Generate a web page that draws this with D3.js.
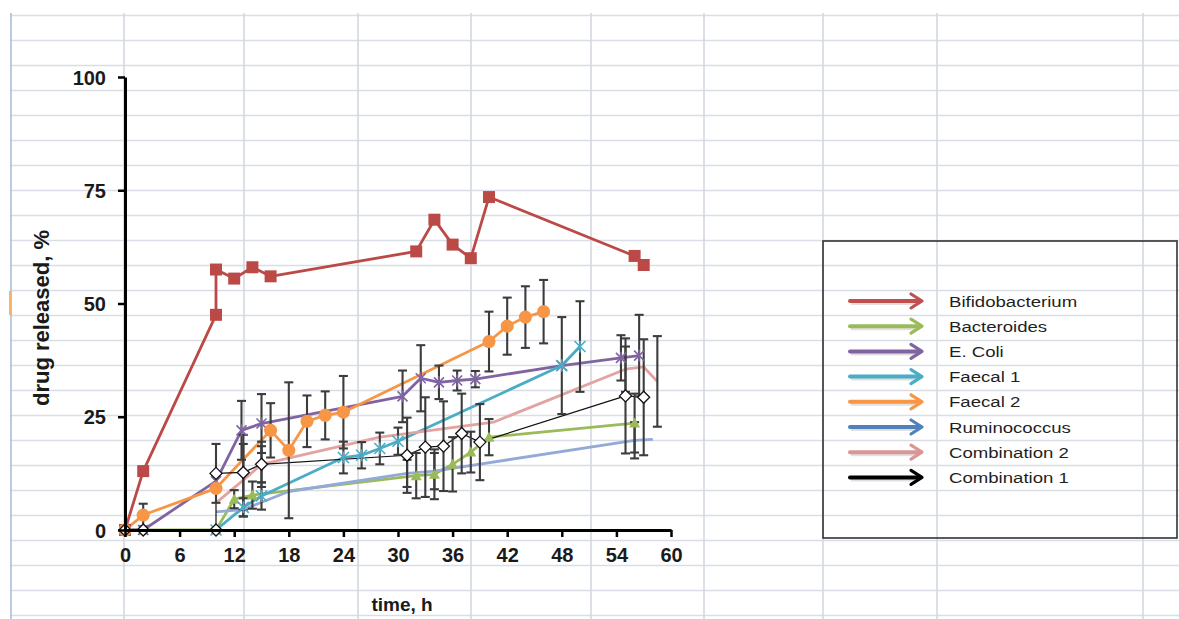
<!DOCTYPE html>
<html lang="en">
<head>
<meta charset="utf-8">
<script src="https://cdn.jsdelivr.net/npm/d3@7"></script>
<style>
  body { margin: 0; background: #fff; }
  svg { display: block; font-family: "Liberation Sans", Arial, sans-serif; }
</style>
</head>
<body>
<div id="chart"></div>
<script>
// series names, in legend order
var names = ["Bifidobacterium", "Bacteroides", "E. Coli", "Faecal 1", "Faecal 2",
             "Ruminococcus", "Combination 2", "Combination 1"];

// time (h), drug released (%), error (+/-, 0 = none)
var bifidoT = [0, 2, 10, 10, 12, 14, 16, 32, 34, 36, 38, 40, 56, 57];
var bifidoV = [0, 13, 47.5, 57.5, 55.5, 58, 56, 61.5, 68.5, 63, 60, 73.5, 60.5, 58.5];
var bifidoE = [0, 0, 0, 0, 0, 0, 0, 0, 0, 0, 0, 0, 0, 0];

var bactT = [0, 2, 10, 12, 14, 32, 34, 36, 38, 40, 56];
var bactV = [0, 0, 0, 6.8, 7.7, 12, 12.3, 14.5, 17.2, 20.5, 23.6];
var bactE = [0, 0, 0, 2, 3, 5, 5.5, 6, 4.5, 4, 6.5];

var ecoliT = [0, 2, 10, 12.8, 15, 30.5, 32.5, 34.5, 36.5, 38.5, 48, 54.5, 56.5];
var ecoliV = [0, 0, 10.8, 22, 23.5, 29.5, 33.5, 32.6, 33, 33.3, 36.3, 38, 38.5];
var ecoliE = [0, 0, 0, 6.5, 6.5, 5.7, 7.3, 3.7, 2.2, 1.8, 0, 5, 9];

var faecal1T = [10, 13, 15, 24, 26, 28, 30, 48, 50];
var faecal1V = [0, 5, 7.5, 16, 16.5, 18, 19.6, 36.3, 40.5];
var faecal1E = [0, 2, 3, 3.5, 2.9, 3.5, 3, 10.7, 10];

var faecal2T = [0, 2, 10, 16, 18, 20, 22, 24, 40, 42, 44, 46];
var faecal2V = [0, 3.3, 9.2, 22, 17.6, 24, 25.3, 26, 41.6, 45, 47, 48.2];
var faecal2E = [0, 2.5, 0, 6, 15, 5.7, 5.3, 8, 6.6, 6.3, 6.8, 7];

var rumiT = [10, 13, 18, 31, 34, 56, 58];
var rumiV = [4, 4.5, 8.5, 12.5, 13, 19.8, 20];
var rumiE = [0, 0, 0, 3, 4, 4, 0];

var comb2T = [10, 13, 15, 28, 40.5, 55, 57, 58.5];
var comb2V = [6, 11, 14.5, 20.5, 23.8, 35.5, 36, 32.8];
var comb2E = [0, 8, 5, 0, 0, 5, 0, 10];

var comb1T = [0, 2, 10, 10, 13, 15, 31, 33, 35, 37, 39, 55, 57];
var comb1V = [0, 0, 0, 12.5, 12.7, 14.5, 16.5, 18.3, 18.5, 21.3, 19.4, 29.6, 29.3];
var comb1E = [0, 0, 0, 6.5, 8.3, 4, 8.3, 11, 9.9, 8.8, 8.4, 12.7, 12.8];

var xTicks = [0, 6, 12, 18, 24, 30, 36, 42, 48, 54, 60];
var yTicks = [0, 25, 50, 75, 100];

// styling per series
var lineColors = ["#bb4a47", "#9bbb59", "#8064a2", "#4bacc6", "#f79646", "#93aad9", "#e3a3a1", "#111111"];
var legendColors = ["#c0504d", "#9bbb59", "#8064a2", "#4bacc6", "#f79646", "#4f81bd", "#d99694", "#000000"];
var markers = ["square", "triangle", "star", "x", "circle", "none", "none", "diamond"];

var allT = [bifidoT, bactT, ecoliT, faecal1T, faecal2T, rumiT, comb2T, comb1T];
var allV = [bifidoV, bactV, ecoliV, faecal1V, faecal2V, rumiV, comb2V, comb1V];
var allE = [bifidoE, bactE, ecoliE, faecal1E, faecal2E, rumiE, comb2E, comb1E];

var series = names.map(function(n, i) {
  return {
    name: n, color: lineColors[i], legend: legendColors[i], marker: markers[i],
    points: allT[i].map(function(t, j) { return {t: t, v: allV[i][j], e: allE[i][j]}; })
  };
});

var W = 1179, H = 619;
var svg = d3.select("#chart").append("svg").attr("width", W).attr("height", H);

// spreadsheet grid behind the chart
var sheetCols = [11, 124, 244, 358, 471, 591, 704, 823, 937, 1143];
var grid = svg.append("g");
grid.selectAll(".row").data(d3.range(0, 25)).enter().append("line")
  .attr("x1", 10).attr("x2", W)
  .attr("y1", function(d) { return 15.5 + d * 25; })
  .attr("y2", function(d) { return 15.5 + d * 25; })
  .style("stroke", "#d9dde5").style("stroke-width", 1.6);
grid.selectAll(".col").data(sheetCols).enter().append("line")
  .attr("x1", function(d) { return d; }).attr("x2", function(d) { return d; })
  .attr("y1", 13).attr("y2", H)
  .style("stroke", function(d, i) { return i === 0 ? "#a9bedc" : "#d4d7e0"; })
  .style("stroke-width", 1.6);
grid.append("rect").attr("x", 9).attr("y", 291).attr("width", 3).attr("height", 24)
  .style("fill", "#f5b66b");

// scales
var x = d3.scaleLinear().domain([0, 60]).range([125, 671]);
var y = d3.scaleLinear().domain([0, 100]).range([530, 77]);

var line = d3.line()
  .x(function(d) { return x(d.t); })
  .y(function(d) { return y(d.v); });

var plot = svg.append("g");

// lines
plot.selectAll(".series").data(series).enter().append("path")
  .attr("d", function(d) { return line(d.points); })
  .style("fill", "none")
  .style("stroke", function(d) { return d.color; })
  .style("stroke-width", function(d) { return d.name === "Combination 1" ? 1.2 : 2.8; })
  .style("stroke-linejoin", "round");

// error bars
var bars = [];
series.forEach(function(s) {
  s.points.forEach(function(p) { if (p.e > 0) bars.push(p); });
});
var eb = plot.selectAll(".err").data(bars).enter().append("g")
  .style("stroke", "#3c3c3c").style("stroke-width", 2.1);
eb.append("line")
  .attr("x1", function(d) { return x(d.t); }).attr("x2", function(d) { return x(d.t); })
  .attr("y1", function(d) { return y(d.v + d.e); }).attr("y2", function(d) { return y(d.v - d.e); });
eb.append("line")
  .attr("x1", function(d) { return x(d.t) - 4.5; }).attr("x2", function(d) { return x(d.t) + 4.5; })
  .attr("y1", function(d) { return y(d.v + d.e); }).attr("y2", function(d) { return y(d.v + d.e); });
eb.append("line")
  .attr("x1", function(d) { return x(d.t) - 4.5; }).attr("x2", function(d) { return x(d.t) + 4.5; })
  .attr("y1", function(d) { return y(d.v - d.e); }).attr("y2", function(d) { return y(d.v - d.e); });

// markers
function markerPath(kind) {
  if (kind === "square") return "M-6,-6H6V6H-6Z";
  if (kind === "circle") return d3.symbol().type(d3.symbolCircle).size(135)();
  if (kind === "triangle") return "M0,-5.5L5.5,4.5H-5.5Z";
  if (kind === "diamond") return "M0,-6L6,0L0,6L-6,0Z";
  if (kind === "star") return "M-5,-5L5,5M-5,5L5,-5M0,-6V6";
  if (kind === "x") return "M-5.5,-5.5L5.5,5.5M-5.5,5.5L5.5,-5.5M0,-6V6";
  return "";
}
series.forEach(function(s) {
  if (s.marker === "none") return;
  var stroked = s.marker === "star" || s.marker === "x";
  plot.append("g").selectAll("path").data(s.points).enter().append("path")
    .attr("transform", function(d) { return "translate(" + x(d.t) + "," + y(d.v) + ")"; })
    .attr("d", markerPath(s.marker))
    .style("fill", s.marker === "diamond" ? "#fff" : (stroked ? "none" : s.color))
    .style("stroke", s.marker === "diamond" ? "#111" : (stroked ? s.color : "none"))
    .style("stroke-width", s.marker === "diamond" ? 1.3 : 1.6);
});

// axes
var yAxis = d3.axisLeft(y).tickValues(yTicks).tickSize(7).tickSizeOuter(0).tickPadding(12);
var xAxis = d3.axisBottom(x).tickValues(xTicks).tickSize(7).tickSizeOuter(0).tickPadding(11);

var gy = svg.append("g").attr("transform", "translate(125,0)").call(yAxis);
var gx = svg.append("g").attr("transform", "translate(0,530)").call(xAxis);
[gx, gy].forEach(function(g) {
  g.select(".domain").style("stroke", "#000").style("stroke-width", 3);
  g.selectAll(".tick line").style("stroke", "#000").style("stroke-width", 2.5);
  g.selectAll(".tick text")
    .style("font-family", "'Liberation Sans', Arial, sans-serif")
    .style("font-size", "20px").style("font-weight", "bold").style("fill", "#1a1a1a");
});
gx.selectAll(".tick text").attr("dy", "0.7em");
gy.selectAll(".tick text").attr("dy", "0.36em");

svg.append("text").attr("x", 402).attr("y", 611).attr("text-anchor", "middle")
  .style("font-size", "19px").style("font-weight", "bold").style("fill", "#1a1a1a")
  .text("time, h");
svg.append("text").attr("transform", "translate(49,318) rotate(-90)").attr("text-anchor", "middle")
  .style("font-size", "22px").style("font-weight", "bold").style("fill", "#1a1a1a")
  .text("drug released, %");

// legend (a drawn box with arrows)
var legend = svg.append("g");
legend.append("rect").attr("x", 823).attr("y", 241).attr("width", 354).attr("height", 297)
  .style("fill", "none").style("stroke", "#333").style("stroke-width", 1.6);

var items = legend.selectAll(".item").data(series).enter().append("g")
  .attr("transform", function(d, i) { return "translate(0," + (301 + i * 25.2) + ")"; });
items.append("line").attr("x1", 851).attr("x2", 919).attr("y1", 1.5).attr("y2", 1.5)
  .style("stroke", "#000").style("stroke-opacity", 0.12).style("stroke-width", 5);
items.append("line").attr("x1", 850).attr("x2", 918).attr("y1", 0).attr("y2", 0)
  .style("stroke", function(d) { return d.legend; }).style("stroke-width", 4)
  .style("stroke-linecap", "round");
items.append("path").attr("d", "M911,-7L922,0L911,7")
  .style("fill", "none")
  .style("stroke", function(d) { return d.legend; }).style("stroke-width", 3.2)
  .style("stroke-linejoin", "round").style("stroke-linecap", "round");
items.append("text")
  .attr("transform", "translate(949,5.5) scale(1.2,1)")
  .style("font-size", "15.5px").style("fill", "#1f1f1f")
  .text(function(d) { return d.name; });
</script>
</body>
</html>
